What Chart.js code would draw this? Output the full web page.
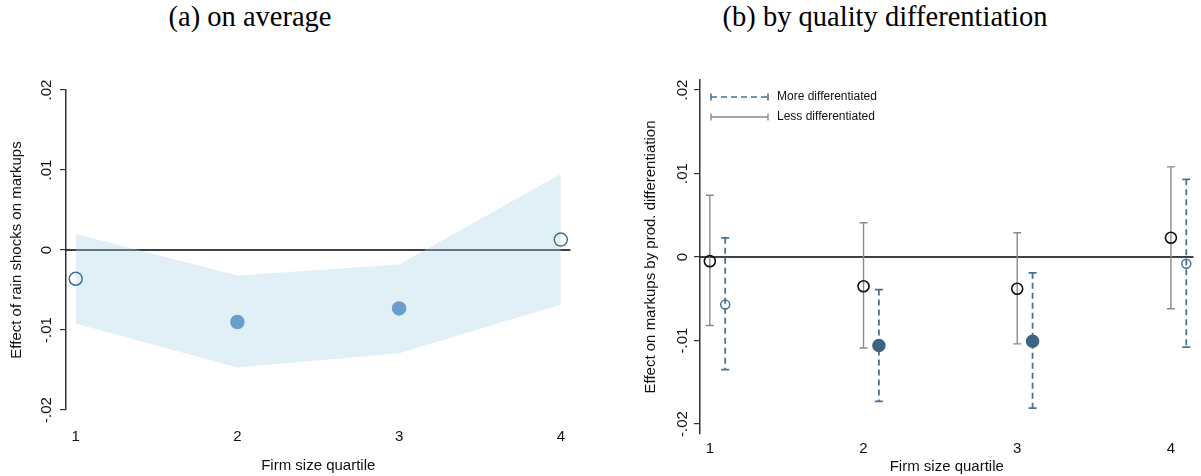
<!DOCTYPE html>
<html>
<head>
<meta charset="utf-8">
<script src="https://cdn.jsdelivr.net/npm/chart.js@4.4.1/dist/chart.umd.min.js"></script>
<style>
  body { margin: 0; background: #fff; }
  #wrap { position: relative; width: 1201px; height: 476px; overflow: hidden; }
  .ttl { position: absolute; top: 3px; line-height: 1; font-family: 'Liberation Serif', 'Times New Roman', serif; font-size: 28.5px; color: #000; transform: translateX(-50%); white-space: nowrap; }
  #chartA { position: absolute; left: 0; top: 0; }
  #chartB { position: absolute; left: 600px; top: 0; }
</style>
</head>
<body>
<div id="wrap">
  <div class="ttl" style="left:250px">(a) on average</div>
  <div class="ttl" style="left:885px">(b) by quality differentiation</div>
  <canvas id="chartA" width="600" height="476"></canvas>
  <canvas id="chartB" width="601" height="476"></canvas>
</div>
<script>
'use strict'
// values

let quartiles = [1, 2, 3, 4];
let xTickLabels = ['1', '2', '3', '4'];
let yTickValues = [-0.02, -0.01, 0, 0.01, 0.02];
let yTickLabels = ['-.02', '-.01', '0', '.01', '.02'];

// (a) on average - point estimate + confidence band
let avgEffect = [-0.0036, -0.0090, -0.0073, 0.0013];
let avgUpper = [0.0020, -0.0032, -0.0018, 0.0095];
let avgLower = [-0.0092, -0.0147, -0.0129, -0.0068];
let avgSignificant = [false, true, true, false];

// (b) by quality differentiation
let lessEffect = [-0.0005, -0.0035, -0.0038, 0.0023];
let lessUpper = [0.0074, 0.0041, 0.0029, 0.0108];
let lessLower = [-0.0082, -0.0109, -0.0104, -0.0062];
let moreEffect = [-0.0057, -0.0106, -0.0101, -0.0008];
let moreUpper = [0.0023, -0.0039, -0.0019, 0.0093];
let moreLower = [-0.0135, -0.0173, -0.0181, -0.0108];
let moreSignificant = [false, true, true, false];
let moreShift = 0.1; // "more" series is plotted a bit right of the quartile

let seriesNames = ['More differentiated', 'Less differentiated'];

Chart.defaults.font.family = "'Liberation Sans', Arial, sans-serif";
Chart.defaults.font.size = 15;
Chart.defaults.color = '#111';

let bandColor = 'rgba(170, 210, 232, 0.35)';
let avgFill = '#6b9fcb';
let avgHollow = '#3f6f8e';
let greyBar = '#8a8a8a';
let blueBar = '#4a7291';
let blueFill = '#3d6484';

function pts(xs, ys) {
    return xs.map((x, i) => ({ x: x, y: ys[i] }));
}

// zero line + rotated y tick labels (stata style)
function axisExtras(labelGap) {
    return {
        id: 'axisExtras',
        beforeDatasetsDraw(chart) {
            let ctx = chart.ctx;
            let area = chart.chartArea;
            let y0 = chart.scales.y.getPixelForValue(0);
            ctx.save();
            ctx.strokeStyle = '#000';
            ctx.lineWidth = 1.5;
            ctx.beginPath();
            ctx.moveTo(area.left, y0);
            ctx.lineTo(area.right, y0);
            ctx.stroke();
            ctx.restore();
        },
        afterDraw(chart) {
            let ctx = chart.ctx;
            let area = chart.chartArea;
            ctx.save();
            ctx.fillStyle = '#111';
            ctx.font = "15px 'Liberation Sans', Arial, sans-serif";
            ctx.textAlign = 'center';
            ctx.textBaseline = 'middle';
            for (let i = 0; i < yTickValues.length; i++) {
                let y = chart.scales.y.getPixelForValue(yTickValues[i]);
                ctx.save();
                ctx.translate(area.left - labelGap, y);
                ctx.rotate(-Math.PI / 2);
                ctx.fillText(yTickLabels[i], 0, 0);
                ctx.restore();
            }
            ctx.restore();
        }
    };
}

function yScale(min, max, width, title, titlePad) {
    return {
        type: 'linear',
        min: min,
        max: max,
        afterBuildTicks: s => { s.ticks = yTickValues.map(v => ({ value: v })); },
        afterFit: s => { s.width = width; },
        ticks: { display: false },
        grid: { drawOnChartArea: false, drawTicks: true, tickLength: 6, color: '#333', lineWidth: 1.2 },
        border: { display: true, color: '#333', width: 1.5 },
        title: { display: true, text: title, font: { size: 15 }, color: '#111', padding: { top: titlePad, bottom: 0 } }
    };
}

function xScale(min, max, height, labelPad, titlePad) {
    return {
        type: 'linear',
        min: min,
        max: max,
        afterBuildTicks: s => { s.ticks = quartiles.map(v => ({ value: v })); },
        afterFit: s => { s.height = height; },
        ticks: {
            autoSkip: false,
            maxRotation: 0,
            padding: labelPad,
            callback: v => xTickLabels[quartiles.indexOf(v)]
        },
        grid: { display: false, drawTicks: false },
        border: { display: false },
        title: { display: true, text: 'Firm size quartile', font: { size: 15 }, color: '#111', padding: { top: 0, bottom: titlePad } }
    };
}

/* ---------- (a) on average ---------- */
new Chart(document.getElementById('chartA'), {
    type: 'line',
    data: {
        datasets: [
            {
                label: 'estimate',
                data: pts(quartiles, avgEffect),
                showLine: false,
                pointRadius: 6.5,
                pointHoverRadius: 6.5,
                pointBorderWidth: 1.5,
                pointBackgroundColor: avgSignificant.map(s => s ? avgFill : 'rgba(0,0,0,0)'),
                pointBorderColor: avgSignificant.map(s => s ? avgFill : avgHollow),
                order: 0
            },
            {
                label: 'upper',
                data: pts(quartiles, avgUpper),
                borderWidth: 0,
                pointRadius: 0,
                tension: 0,
                fill: false,
                order: 2
            },
            {
                label: 'lower',
                data: pts(quartiles, avgLower),
                borderWidth: 0,
                pointRadius: 0,
                tension: 0,
                fill: '-1',
                backgroundColor: bandColor,
                order: 1
            }
        ]
    },
    options: {
        responsive: false,
        animation: false,
        layout: { padding: { top: 90, right: 29.5, bottom: 0, left: 0 } },
        plugins: { legend: { display: false }, tooltip: { enabled: false } },
        scales: {
            x: xScale(0.94, 4.06, 66, 18, 1),
            y: yScale(-0.02, 0.02, 66, 'Effect of rain shocks on markups', 8)
        }
    },
    plugins: [axisExtras(19)]
});

/* ---------- (b) by quality differentiation ---------- */
let moreX = quartiles.map(q => q + moreShift);

let errorBars = {
    id: 'errorBars',
    beforeDatasetsDraw(chart) {
        let ctx = chart.ctx;
        let xs = chart.scales.x;
        let ys = chart.scales.y;
        let groups = [
            { x: quartiles, hi: lessUpper, lo: lessLower, color: greyBar, width: 1.4, dash: [] },
            { x: moreX, hi: moreUpper, lo: moreLower, color: blueBar, width: 1.8, dash: [6, 4] }
        ];
        ctx.save();
        groups.forEach(g => {
            ctx.strokeStyle = g.color;
            ctx.lineWidth = g.width;
            for (let i = 0; i < g.x.length; i++) {
                let px = xs.getPixelForValue(g.x[i]);
                let top = ys.getPixelForValue(g.hi[i]);
                let bot = ys.getPixelForValue(g.lo[i]);
                ctx.setLineDash(g.dash);
                ctx.beginPath();
                ctx.moveTo(px, top);
                ctx.lineTo(px, bot);
                ctx.stroke();
                ctx.setLineDash([]);
                ctx.beginPath();
                ctx.moveTo(px - 4, top);
                ctx.lineTo(px + 4, top);
                ctx.moveTo(px - 4, bot);
                ctx.lineTo(px + 4, bot);
                ctx.stroke();
            }
        });
        ctx.restore();
    },
    afterDraw(chart) {
        // legend in the top left corner of the plot
        let ctx = chart.ctx;
        let area = chart.chartArea;
        let rows = [
            { name: seriesNames[0], color: blueBar, width: 1.6, dash: [6, 4] },
            { name: seriesNames[1], color: greyBar, width: 1.4, dash: [] }
        ];
        ctx.save();
        ctx.font = "12px 'Liberation Sans', Arial, sans-serif";
        ctx.textBaseline = 'middle';
        ctx.textAlign = 'left';
        rows.forEach((r, k) => {
            let y = area.top + 17 + k * 20;
            let x1 = area.left + 11;
            let x2 = area.left + 68;
            ctx.strokeStyle = r.color;
            ctx.lineWidth = r.width;
            ctx.setLineDash(r.dash);
            ctx.beginPath();
            ctx.moveTo(x1, y);
            ctx.lineTo(x2, y);
            ctx.stroke();
            ctx.setLineDash([]);
            ctx.beginPath();
            ctx.moveTo(x1, y - 3.5);
            ctx.lineTo(x1, y + 3.5);
            ctx.moveTo(x2, y - 3.5);
            ctx.lineTo(x2, y + 3.5);
            ctx.stroke();
            ctx.fillStyle = '#111';
            ctx.fillText(r.name, area.left + 77, y);
        });
        ctx.restore();
    }
};

new Chart(document.getElementById('chartB'), {
    type: 'line',
    data: {
        datasets: [
            {
                label: seriesNames[1],
                data: pts(quartiles, lessEffect),
                showLine: false,
                pointRadius: 5.5,
                pointHoverRadius: 5.5,
                pointBorderWidth: 1.6,
                pointBackgroundColor: 'rgba(0,0,0,0)',
                pointBorderColor: '#111'
            },
            {
                label: seriesNames[0],
                data: pts(moreX, moreEffect),
                showLine: false,
                pointRadius: moreSignificant.map(s => s ? 6 : 4.5),
                pointHoverRadius: 6,
                pointBorderWidth: 1.5,
                pointBackgroundColor: moreSignificant.map(s => s ? blueFill : 'rgba(0,0,0,0)'),
                pointBorderColor: moreSignificant.map(s => s ? blueFill : blueBar)
            }
        ]
    },
    options: {
        responsive: false,
        animation: false,
        layout: { padding: { top: 80, right: 0, bottom: 0, left: 0 } },
        plugins: { legend: { display: false }, tooltip: { enabled: false } },
        scales: {
            x: xScale(0.936, 4.147, 42, 6, 0),
            y: yScale(-0.0212, 0.0212, 100, 'Effect on markups by prod. differentiation', 42)
        }
    },
    plugins: [axisExtras(17), errorBars]
});
</script>
</body>
</html>
